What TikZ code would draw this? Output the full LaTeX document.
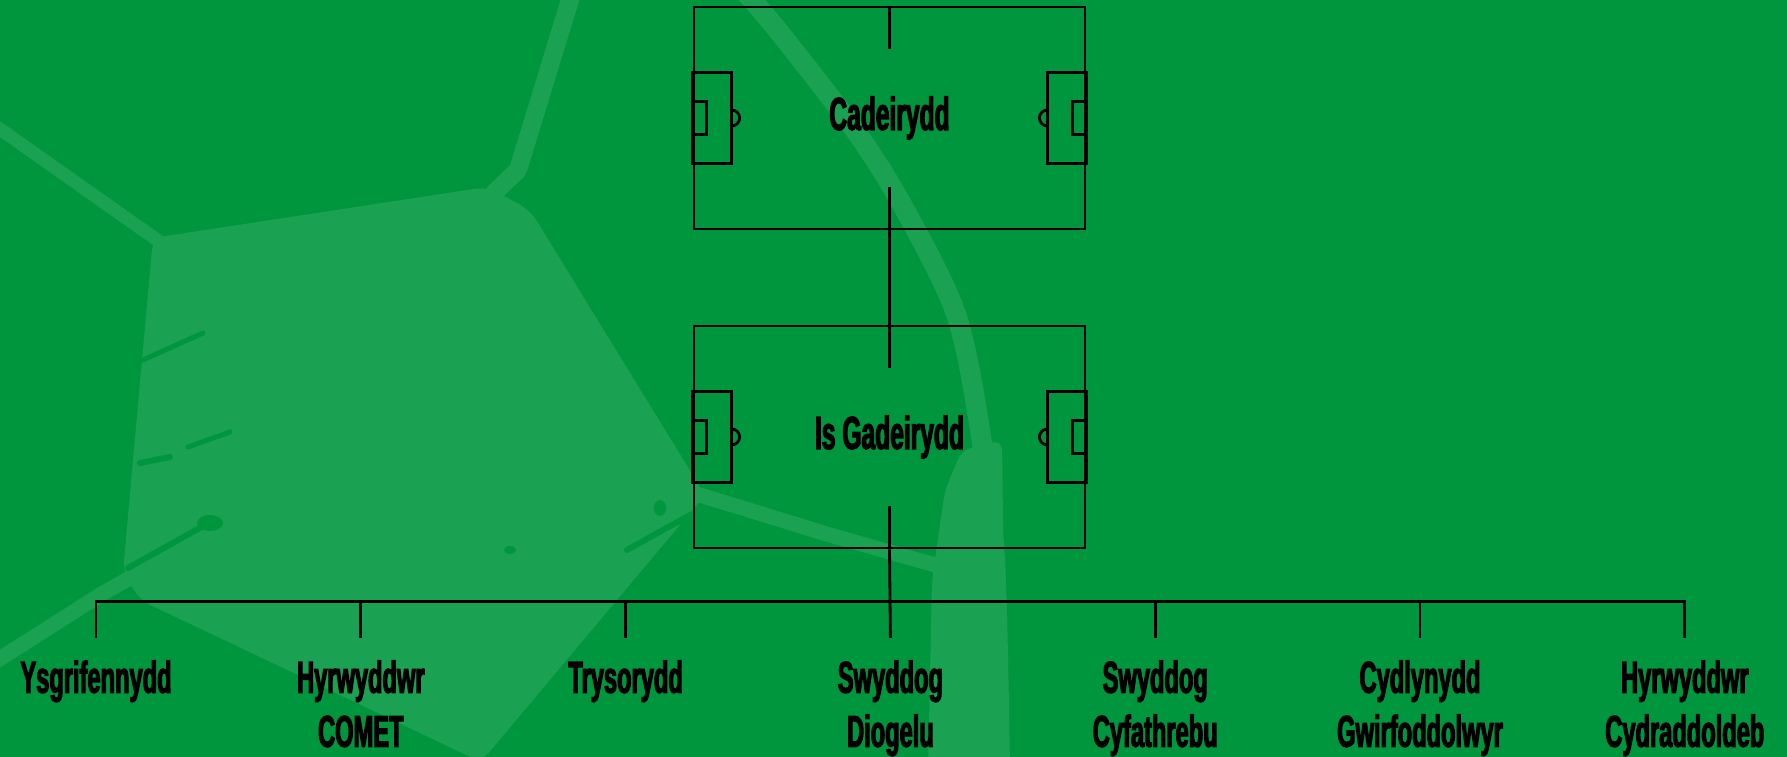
\documentclass[tikz,border=0pt]{standalone}
\usepackage{fontspec}
\usepackage{tikz}
\usetikzlibrary{calc}
\newfontfamily\condfont{Liberation Sans}[FakeStretch=0.53,FakeBold=2.5]
\definecolor{pitchgreen}{HTML}{00963E}
\definecolor{ballgreen}{HTML}{1BA152}

% markings of a pitch drawn round a node
\newcommand{\pitchmarks}[1]{%
  \draw (#1.north) -- ++(0,-0.43);
  \draw (#1.south) -- ++(0,0.43);
  \draw ($(#1.west)+(0,0.455)$) rectangle ++(0.39,-0.91);
  \draw ($(#1.west)+(0,0.165)$) rectangle ++(0.14,-0.33);
  \draw ($(#1.west)+(0.39,0.08)$) arc[start angle=90,end angle=-90,radius=0.08];
  \draw ($(#1.east)+(0,0.455)$) rectangle ++(-0.39,-0.91);
  \draw ($(#1.east)+(0,0.165)$) rectangle ++(-0.14,-0.33);
  \draw ($(#1.east)+(-0.39,0.08)$) arc[start angle=90,end angle=270,radius=0.08];
}

\begin{document}
\begin{tikzpicture}[x=1cm,y=1cm,line width=0.8pt,
  pitch/.style={draw,minimum width=3.91cm,minimum height=2.22cm,inner sep=0pt,
    font=\condfont\bfseries\fontsize{13.2pt}{15.4pt}\selectfont},
  role/.style={anchor=north,align=center,inner xsep=0pt,inner ysep=0.21cm,
    font=\condfont\bfseries\fontsize{12.7pt}{15.37pt}\selectfont},
  seam/.style={ballgreen,line cap=round,line join=round},
  grunge/.style={pitchgreen,line cap=round}]
  \useasboundingbox (0,0) rectangle (17.87,-7.57);

  % background ball
  \begin{scope}
    \clip (0,0) rectangle (17.87,-7.57);
    \fill[pitchgreen] (0,0) rectangle (17.87,-7.57);
    \fill[ballgreen,rounded corners=0.12cm] (1.53,-2.38) -- (4.87,-1.87) -- (5.3,-2.1)
      -- (7.05,-4.95) -- (4.81,-7.62) -- (1.4,-6.0) -- (1.23,-5.72) -- cycle;
    \draw[seam,line width=0.13cm] (-0.1,-1.22) -- (1.6,-2.42);
    \draw[seam,line width=0.18cm] (5.73,0.1) -- (5.18,-1.7) -- (4.95,-1.92);
    \draw[seam,line width=0.2cm] plot[smooth] coordinates {(7.45,0.08) (7.8,-0.33) (8.57,-1.33)
      (9.05,-2.1) (9.56,-3.14) (9.8,-4.3) (9.95,-5.6) (10.0,-7.7)};
    \fill[ballgreen,rounded corners=0.1cm] (9.62,-4.5) -- (10.02,-4.4) -- (10.06,-7.7)
      -- (9.28,-7.7) -- (9.32,-5.8) -- (9.45,-4.9) -- cycle;
    \draw[seam,line width=0.15cm] (7.0,-4.95) -- (8.3,-5.35) -- (9.35,-5.65);
    \draw[seam,line width=0.15cm] (-0.1,-6.65) -- (1.0,-5.95) -- (1.35,-5.75);
    \draw[grunge,line width=0.05cm] (1.43,-3.6) -- (2.03,-3.33);
    \draw[grunge,line width=0.06cm] (1.4,-4.63) -- (1.7,-4.57);
    \draw[grunge,line width=0.05cm] (1.88,-4.47) -- (2.3,-4.32);
    \draw[grunge,line width=0.06cm] (1.28,-5.68) -- (2.05,-5.25);
    \fill[pitchgreen] (2.1,-5.23) ellipse[x radius=0.13cm,y radius=0.08cm];
    \draw[grunge,line width=0.06cm] (6.27,-5.5) -- (6.9,-5.15);
    \fill[pitchgreen] (6.6,-5.08) ellipse[x radius=0.06cm,y radius=0.08cm];
    \fill[pitchgreen] (5.1,-5.5) ellipse[x radius=0.06cm,y radius=0.04cm];
  \end{scope}

  % pitches
  \node[pitch] (chair) at (8.895,-1.18) {Cadeirydd};
  \node[pitch] (vice) at (8.895,-4.37) {Is Gadeirydd};
  \pitchmarks{chair}
  \pitchmarks{vice}

  % roles
  \coordinate (bus) at (0,-6.015);
  \foreach \i/\txt in {1/Ysgrifennydd,2/{Hyrwyddwr\\COMET},3/Trysorydd,4/{Swyddog\\Diogelu},
      5/{Swyddog\\Cyfathrebu},6/{Cydlynydd\\Gwirfoddolwyr},7/{Hyrwyddwr\\Cydraddoldeb}}
    \node[role] (lab\i) at ({0.96+2.648*(\i-1)},-6.38) {\txt};

  \draw (chair.south) -- (vice.north);
  \draw (vice.south) -- (lab4.north);
  \draw (lab1.north) -- (lab1.north |- bus) -- (lab7.north |- bus) -- (lab7.north);
  \foreach \i in {2,3,5,6}
    \draw (lab\i.north |- bus) -- (lab\i.north);
\end{tikzpicture}
\end{document}
